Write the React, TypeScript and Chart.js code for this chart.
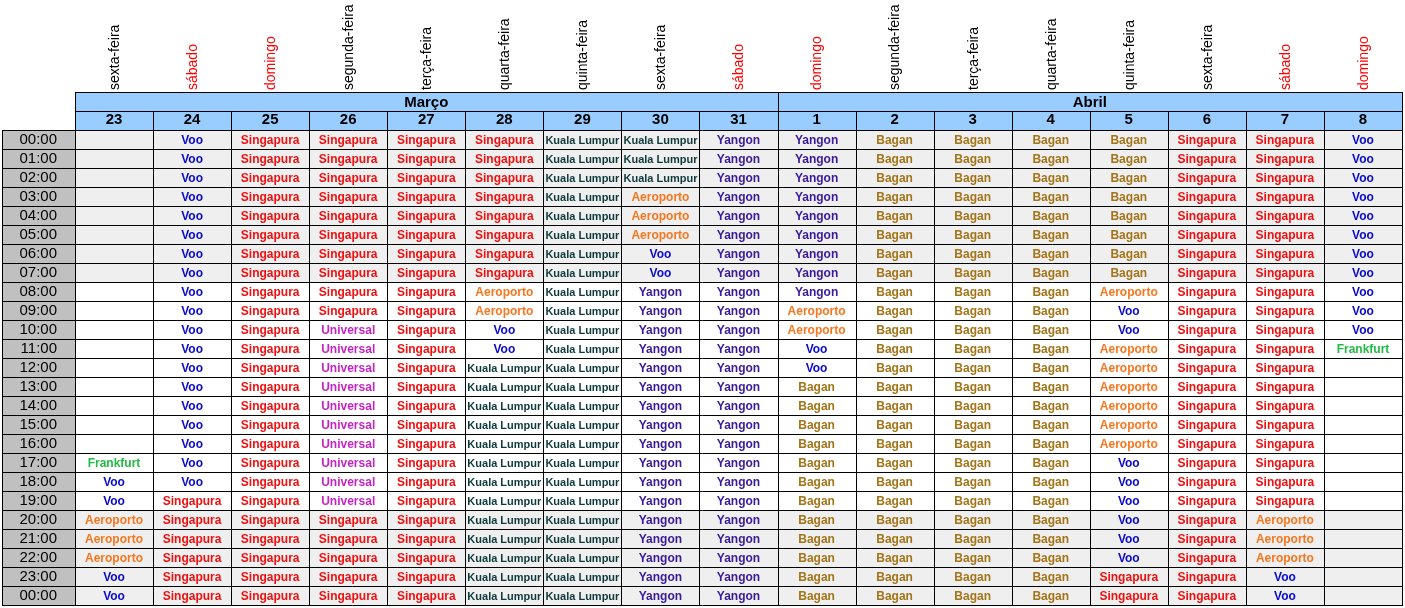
import React, { useEffect, useRef } from 'react';
import { Chart, registerables } from 'chart.js';

Chart.register(...registerables);

const FONT = '"Liberation Sans", Arial, sans-serif';

// Place names used in the schedule
const S = 'Singapura';
const V = 'Voo';
const K = 'Kuala Lumpur';
const Y = 'Yangon';
const B = 'Bagan';
const A = 'Aeroporto';
const U = 'Universal';
const F = 'Frankfurt';
const E = '';

const days = ['23', '24', '25', '26', '27', '28', '29', '30', '31', '1', '2', '3', '4', '5', '6', '7', '8'];
const weekdays = [
  'sexta-feira', 'sábado', 'domingo', 'segunda-feira', 'terça-feira', 'quarta-feira', 'quinta-feira',
  'sexta-feira', 'sábado', 'domingo', 'segunda-feira', 'terça-feira', 'quarta-feira', 'quinta-feira',
  'sexta-feira', 'sábado', 'domingo',
];
const monthNames = ['Março', 'Abril'];
const monthDayCounts = [9, 8];
const hours = [
  '00:00', '01:00', '02:00', '03:00', '04:00', '05:00', '06:00', '07:00', '08:00', '09:00',
  '10:00', '11:00', '12:00', '13:00', '14:00', '15:00', '16:00', '17:00', '18:00', '19:00',
  '20:00', '21:00', '22:00', '23:00', '00:00',
];
const nightRows = [
  true, true, true, true, true, true, true, true, false, false,
  false, false, false, false, false, false, false, false, false, false,
  true, true, true, true, true,
];

const mar23 = [E, E, E, E, E, E, E, E, E, E, E, E, E, E, E, E, E, F, V, V, A, A, A, V, V];
const mar24 = [V, V, V, V, V, V, V, V, V, V, V, V, V, V, V, V, V, V, V, S, S, S, S, S, S];
const mar25 = [S, S, S, S, S, S, S, S, S, S, S, S, S, S, S, S, S, S, S, S, S, S, S, S, S];
const mar26 = [S, S, S, S, S, S, S, S, S, S, U, U, U, U, U, U, U, U, U, U, S, S, S, S, S];
const mar27 = [S, S, S, S, S, S, S, S, S, S, S, S, S, S, S, S, S, S, S, S, S, S, S, S, S];
const mar28 = [S, S, S, S, S, S, S, S, A, A, V, V, K, K, K, K, K, K, K, K, K, K, K, K, K];
const mar29 = [K, K, K, K, K, K, K, K, K, K, K, K, K, K, K, K, K, K, K, K, K, K, K, K, K];
const mar30 = [K, K, K, A, A, A, V, V, Y, Y, Y, Y, Y, Y, Y, Y, Y, Y, Y, Y, Y, Y, Y, Y, Y];
const mar31 = [Y, Y, Y, Y, Y, Y, Y, Y, Y, Y, Y, Y, Y, Y, Y, Y, Y, Y, Y, Y, Y, Y, Y, Y, Y];
const apr1 = [Y, Y, Y, Y, Y, Y, Y, Y, Y, A, A, V, V, B, B, B, B, B, B, B, B, B, B, B, B];
const apr2 = [B, B, B, B, B, B, B, B, B, B, B, B, B, B, B, B, B, B, B, B, B, B, B, B, B];
const apr3 = [B, B, B, B, B, B, B, B, B, B, B, B, B, B, B, B, B, B, B, B, B, B, B, B, B];
const apr4 = [B, B, B, B, B, B, B, B, B, B, B, B, B, B, B, B, B, B, B, B, B, B, B, B, B];
const apr5 = [B, B, B, B, B, B, B, B, A, V, V, A, A, A, A, A, A, V, V, V, V, V, V, S, S];
const apr6 = [S, S, S, S, S, S, S, S, S, S, S, S, S, S, S, S, S, S, S, S, S, S, S, S, S];
const apr7 = [S, S, S, S, S, S, S, S, S, S, S, S, S, S, S, S, S, S, S, S, A, A, A, V, V];
const apr8 = [V, V, V, V, V, V, V, V, V, V, V, F, E, E, E, E, E, E, E, E, E, E, E, E, E];

const schedule = [mar23, mar24, mar25, mar26, mar27, mar28, mar29, mar30, mar31, apr1, apr2, apr3, apr4, apr5, apr6, apr7, apr8];

const placeColors: Record<string, string> = {
  Singapura: '#f01010',
  Voo: '#0a0acc',
  'Kuala Lumpur': '#0e3a3c',
  Yangon: '#3a1a9a',
  Bagan: '#a47418',
  Aeroporto: '#f7761e',
  Universal: '#c424c4',
  Frankfurt: '#22bb44',
};
const weekendNames = ['sábado', 'domingo'];

const HEADER_BLUE = '#99ccff';
const TIME_GRAY = '#c0c0c0';
const NIGHT_GRAY = '#efefef';

export default function App() {
  const ref = useRef<HTMLCanvasElement>(null);

  useEffect(() => {
    const canvas = ref.current;
    if (!canvas) return;

    const points: { x: number; y: number; place: string }[] = [];
    schedule.forEach((col, ci) => {
      col.forEach((place, ri) => {
        if (place) points.push({ x: ci, y: ri, place });
      });
    });

    const sheetPlugin = {
      id: 'sheet',
      beforeDraw(chart: any) {
        const { ctx, chartArea: ca } = chart;
        const x = chart.scales.x;
        const y = chart.scales.y;
        const rowH = y.getPixelForValue(1) - y.getPixelForValue(0);
        ctx.save();
        ctx.fillStyle = '#ffffff';
        ctx.fillRect(0, 0, chart.width, chart.height);
        ctx.fillStyle = HEADER_BLUE;
        ctx.fillRect(ca.left, x.top - rowH, ca.right - ca.left, x.bottom - x.top + rowH);
        ctx.fillStyle = TIME_GRAY;
        ctx.fillRect(y.left, ca.top, y.right - y.left, ca.bottom - ca.top);
        ctx.fillStyle = NIGHT_GRAY;
        hours.forEach((_, ri) => {
          if (!nightRows[ri]) return;
          const t = y.getPixelForValue(ri - 0.5);
          const b = y.getPixelForValue(ri + 0.5);
          ctx.fillRect(ca.left, t, ca.right - ca.left, b - t);
        });
        ctx.restore();
      },
      afterDraw(chart: any) {
        const { ctx, chartArea: ca } = chart;
        const x = chart.scales.x;
        const y = chart.scales.y;
        const colW = x.getPixelForValue(1) - x.getPixelForValue(0);
        const rowH = y.getPixelForValue(1) - y.getPixelForValue(0);
        const headTop = x.top - rowH;
        const snap = (v: number) => Math.round(v) + 0.5;

        ctx.save();
        // grid lines
        ctx.strokeStyle = '#000000';
        ctx.lineWidth = 1;
        ctx.beginPath();
        [headTop, x.top].forEach((yy) => {
          ctx.moveTo(ca.left, snap(yy));
          ctx.lineTo(ca.right + 1, snap(yy));
        });
        for (let r = 0; r <= hours.length; r++) {
          const yy = snap(y.getPixelForValue(r - 0.5));
          ctx.moveTo(y.left, yy);
          ctx.lineTo(ca.right + 1, yy);
        }
        for (let c = 0; c <= days.length; c++) {
          const xx = snap(x.getPixelForValue(c - 0.5));
          ctx.moveTo(xx, x.top);
          ctx.lineTo(xx, ca.bottom + 1);
        }
        let start = 0;
        const monthEdges = [0];
        monthDayCounts.forEach((n) => {
          start += n;
          monthEdges.push(start);
        });
        monthEdges.forEach((c) => {
          const xx = snap(x.getPixelForValue(c - 0.5));
          ctx.moveTo(xx, headTop);
          ctx.lineTo(xx, x.top);
        });
        ctx.moveTo(snap(y.left), ca.top);
        ctx.lineTo(snap(y.left), ca.bottom + 1);
        ctx.stroke();

        // month names
        ctx.fillStyle = '#000000';
        ctx.font = `bold 15px ${FONT}`;
        ctx.textAlign = 'center';
        ctx.textBaseline = 'middle';
        monthNames.forEach((m, mi) => {
          const l = x.getPixelForValue(monthEdges[mi] - 0.5);
          const r = x.getPixelForValue(monthEdges[mi + 1] - 0.5);
          ctx.fillText(m, (l + r) / 2, headTop + rowH / 2 + 1);
        });

        // weekday names (rotated)
        ctx.font = `14px ${FONT}`;
        weekdays.forEach((w, ci) => {
          const cx = x.getPixelForValue(ci);
          ctx.save();
          ctx.translate(cx + 1, headTop - 2);
          ctx.rotate(-Math.PI / 2);
          ctx.textAlign = 'left';
          ctx.textBaseline = 'middle';
          ctx.fillStyle = weekendNames.includes(w) ? '#ff0000' : '#000000';
          ctx.fillText(w, 0, 0);
          ctx.restore();
        });

        // cell texts
        const meta = chart.getDatasetMeta(0);
        const data = chart.data.datasets[0].data;
        ctx.textAlign = 'center';
        ctx.textBaseline = 'middle';
        meta.data.forEach((el: any, i: number) => {
          const p = data[i];
          let size = 12;
          ctx.font = `bold ${size}px ${FONT}`;
          const w = ctx.measureText(p.place).width;
          if (w > colW - 4) {
            size = (size * (colW - 4)) / w;
            ctx.font = `bold ${size}px ${FONT}`;
          }
          ctx.fillStyle = placeColors[p.place] || '#000';
          ctx.fillText(p.place, el.x, el.y + 1);
        });
        ctx.restore();
      },
    };

    const chart = new Chart(canvas, {
      type: 'scatter',
      data: {
        datasets: [
          {
            data: points as any,
            pointRadius: 0,
            pointHoverRadius: 0,
            showLine: false,
          },
        ],
      },
      options: {
        responsive: false,
        animation: false,
        events: [],
        layout: { padding: { left: 2, top: 111, right: 3, bottom: 3 } },
        plugins: { legend: { display: false }, tooltip: { enabled: false } },
        scales: {
          x: {
            type: 'linear',
            position: 'top',
            min: -0.5,
            max: days.length - 0.5,
            grid: { display: false, drawTicks: false },
            border: { display: false },
            afterBuildTicks: (s: any) => {
              s.ticks = days.map((_, i) => ({ value: i }));
            },
            afterFit: (s: any) => {
              s.height = 19;
              s.paddingLeft = 0;
              s.paddingRight = 0;
            },
            ticks: {
              autoSkip: false,
              maxRotation: 0,
              minRotation: 0,
              padding: 1,
              color: '#000000',
              font: { family: FONT, size: 15, weight: 'bold' },
              callback: (v: any) => days[v as number],
            },
          },
          y: {
            type: 'linear',
            position: 'left',
            reverse: true,
            min: -0.5,
            max: hours.length - 0.5,
            grid: { display: false, drawTicks: false },
            border: { display: false },
            afterBuildTicks: (s: any) => {
              s.ticks = hours.map((_, i) => ({ value: i }));
            },
            afterFit: (s: any) => {
              s.width = 73;
              s.paddingTop = 0;
              s.paddingBottom = 0;
            },
            ticks: {
              autoSkip: false,
              padding: 18,
              color: '#000000',
              font: { family: FONT, size: 15 },
              callback: (v: any) => hours[v as number],
            },
          },
        },
      } as any,
      plugins: [sheetPlugin],
    });

    return () => chart.destroy();
  }, []);

  return (
    <div style={{ position: 'fixed', left: 0, top: 0, width: 1405, height: 608, background: '#ffffff' }}>
      <canvas ref={ref} width={1405} height={608} style={{ display: 'block' }} />
    </div>
  );
}
